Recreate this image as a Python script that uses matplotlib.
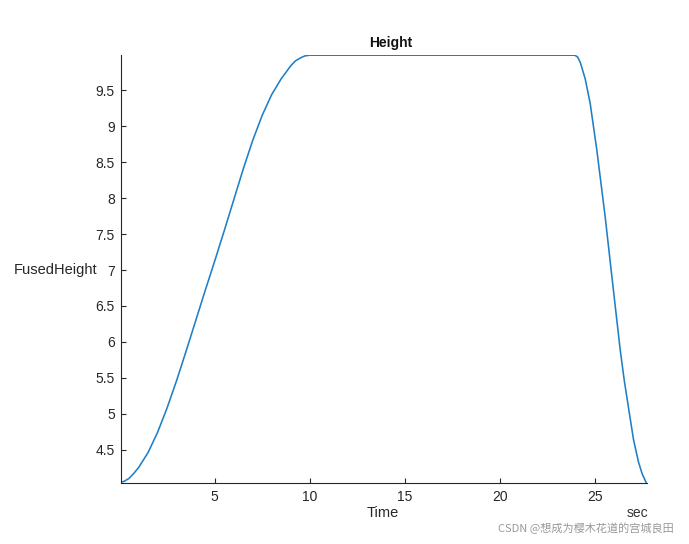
import numpy as np
import matplotlib
matplotlib.use("Agg")
import matplotlib.pyplot as plt

plt.rcParams['font.family'] = ['Liberation Sans', 'Noto Sans CJK SC', 'DejaVu Sans']

# values (time in sec, fused height)
time = [0, 0.25, 0.5, 0.75, 1.0, 1.5, 2.0, 2.5, 3.0, 3.5, 4.0, 4.5, 5.0, 5.5,
        6.0, 6.5, 7.0, 7.5, 8.0, 8.5, 9.0, 9.25, 9.5, 9.75, 10.0,
        23.95, 24.1, 24.24, 24.5, 24.76, 25.11, 25.55, 25.94, 26.34, 26.55,
        26.82, 27.04, 27.3, 27.5, 27.71]
height = [4.04, 4.06, 4.10, 4.17, 4.25, 4.46, 4.74, 5.08, 5.46, 5.87, 6.29,
          6.71, 7.12, 7.54, 7.97, 8.40, 8.80, 9.15, 9.44, 9.66, 9.84, 9.91,
          9.95, 9.98, 9.99,
          9.99, 9.965, 9.89, 9.66, 9.32, 8.67, 7.74, 6.82, 5.89, 5.47,
          5.01, 4.64, 4.33, 4.16, 4.04]
yticks = [4.5, 5, 5.5, 6, 6.5, 7, 7.5, 8, 8.5, 9, 9.5]
xticks = [5, 10, 15, 20, 25]

axcol = '#262626'
W, H = 689, 544
fig = plt.figure(figsize=(W / 100, H / 100), dpi=100)
ax = fig.add_axes([120.5 / W, 1 - 482.7 / H, 526.5 / W, 427.5 / H])
ax.plot(time, height, color='#1f7fc6', lw=1.15, solid_joinstyle='round')

ax.set_xlim(0.05, 27.75)
ax.set_ylim(4.04, 9.99)
ax.set_xticks(xticks)
ax.set_yticks(yticks)
ax.set_yticklabels([f'{v:g}' for v in yticks])
for s in ['top', 'right']:
    ax.spines[s].set_visible(False)
for s in ['left', 'bottom']:
    ax.spines[s].set_color(axcol)
    ax.spines[s].set_linewidth(0.8)
ax.tick_params(direction='in', length=3.5, width=0.8, colors=axcol,
               labelsize=10, pad=5)
ax.tick_params(axis='y', pad=4)

fig.text(391 / W, 1 - 43 / H, 'Height', fontsize=10, fontweight='bold',
         color='#111111', ha='center', va='center')
fig.text(383 / W, 1 - 513 / H, 'Time', fontsize=10.5, color=axcol,
         ha='center', va='center')
fig.text(97 / W, 1 - 270 / H, 'FusedHeight', fontsize=10.5, color=axcol,
         ha='right', va='center')
fig.text(637 / W, 1 - 513 / H, 'sec', fontsize=10, color='#333333',
         ha='center', va='center')
fig.text(674 / W, 1 - 528 / H, 'CSDN @想成为樱木花道的宫城良田', fontsize=8,
         color='#999999', ha='right', va='center',
         family=['Noto Sans CJK SC', 'DejaVu Sans'])

fig.savefig('out.png', dpi=100)
